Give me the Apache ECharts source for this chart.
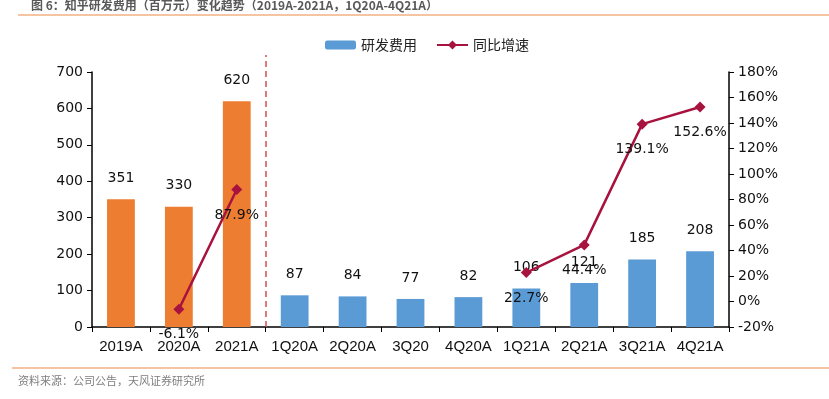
<!DOCTYPE html>
<html>
<head>
<meta charset="utf-8">
<script src="https://cdn.jsdelivr.net/npm/echarts@6/dist/echarts.min.js"></script>
<style>
  html, body { margin: 0; padding: 0; background: #fff; }
  #chart { width: 829px; height: 399px; }
</style>
</head>
<body>
<div id="chart"></div>
<script>
// 类目
var categories = ["2019A", "2020A", "2021A", "1Q20A", "2Q20A", "3Q20", "4Q20A", "1Q21A", "2Q21A", "3Q21A", "4Q21A"];
// 研发费用（百万元）
var rdCost = [351, 330, 620, 87, 84, 77, 82, 106, 121, 185, 208];
// 同比增速（%），年度与季度之间断开
var yoyGrowth = [null, -6.1, 87.9, null, null, null, null, 22.7, 44.4, 139.1, 152.6];
// 前三个为年度数据
var annualCount = 3;

var orange = "#ED7D31";
var blue = "#5B9BD5";
var lineColor = "#A8123E";
var axisFont = "DejaVu Sans, Verdana, sans-serif";
var catFont = "'Liberation Sans', Arial, sans-serif";

var myChart = echarts.init(document.getElementById("chart"));

var barData = rdCost.map(function (v, i) {
    return {
        value: v,
        itemStyle: { color: i < annualCount ? orange : blue }
    };
});

var option = {
    animation: false,
    backgroundColor: "#fff",
    title: {
        text: "图 6：知乎研发费用（百万元）变化趋势（2019A-2021A，1Q20A-4Q21A）",
        left: 26,
        top: -6,
        textStyle: { fontSize: 12, fontWeight: "bold", color: "#595959", fontFamily: "Noto Sans CJK SC" }
    },
    graphic: [
        { type: "line", shape: { x1: 18, y1: 15, x2: 829, y2: 15 }, style: { stroke: "#F4B183", lineWidth: 1.5 } },
        { type: "line", shape: { x1: 12, y1: 368, x2: 829, y2: 368 }, style: { stroke: "#F4B183", lineWidth: 1.5 } },
        { type: "text", left: 18, top: 375, style: { text: "资料来源：公司公告，天风证券研究所", fill: "#7F7F7F", font: "11px 'Noto Sans CJK SC'" } }
    ],
    legend: {
        top: 33,
        left: 320,
        itemGap: 20,
        itemWidth: 31,
        itemHeight: 9,
        textStyle: { fontSize: 14, color: "#222", fontFamily: "Noto Sans CJK SC" },
        data: [
            { name: "研发费用", itemStyle: { color: blue } },
            { name: "同比增速", icon: "path://M0,4 L31,4 L31,6 L0,6 Z M15.5,0.5 L20,5 L15.5,9.5 L11,5 Z" }
        ]
    },
    grid: [
        { left: 92, right: 100, top: 72, bottom: 72 },
        { left: 92, right: 100, top: 55, bottom: 72 }
    ],
    xAxis: [
        {
            type: "category",
            gridIndex: 0,
            data: categories,
            axisLine: { lineStyle: { color: "#000", width: 1.5 } },
            axisTick: { show: true, length: 5, lineStyle: { color: "#000" } },
            axisLabel: { interval: 0, fontSize: 15, color: "#111", margin: 12, fontFamily: catFont }
        },
        {
            type: "value",
            gridIndex: 1,
            min: 0,
            max: categories.length,
            show: false
        }
    ],
    yAxis: [
        {
            type: "value",
            gridIndex: 0,
            min: 0,
            max: 700,
            interval: 100,
            splitLine: { show: false },
            axisLine: { show: true, lineStyle: { color: "#000", width: 1.5 } },
            axisTick: { show: true, length: 5, lineStyle: { color: "#000" } },
            axisLabel: { fontSize: 14, color: "#111", margin: 9, fontFamily: axisFont }
        },
        {
            type: "value",
            gridIndex: 0,
            position: "right",
            min: -20,
            max: 180,
            interval: 20,
            splitLine: { show: false },
            axisLine: { show: true, lineStyle: { color: "#000", width: 1.5 } },
            axisTick: { show: true, length: 5, lineStyle: { color: "#000" } },
            axisLabel: { fontSize: 14, color: "#111", margin: 9, fontFamily: axisFont, formatter: "{value}%" }
        },
        {
            type: "value",
            gridIndex: 1,
            min: 0,
            max: 1,
            show: false
        }
    ],
    series: [
        {
            name: "研发费用",
            type: "bar",
            xAxisIndex: 0,
            yAxisIndex: 0,
            barWidth: "48%",
            itemStyle: { color: blue },
            label: {
                show: true,
                position: "top",
                distance: 14,
                fontSize: 14,
                color: "#111",
                fontFamily: axisFont
            },
            data: barData
        },
        {
            name: "同比增速",
            type: "line",
            xAxisIndex: 0,
            yAxisIndex: 1,
            symbol: "diamond",
            symbolSize: 11,
            connectNulls: false,
            lineStyle: { color: lineColor, width: 2.5 },
            itemStyle: { color: lineColor },
            label: {
                show: true,
                position: "bottom",
                distance: 13,
                fontSize: 14,
                color: "#111",
                fontFamily: axisFont,
                formatter: function (p) { return p.value.toFixed(1) + "%"; }
            },
            data: yoyGrowth,
            z: 5
        },
        {
            // 年度与季度分隔虚线
            type: "line",
            xAxisIndex: 1,
            yAxisIndex: 2,
            data: [],
            markLine: {
                symbol: ["none", "none"],
                silent: true,
                label: { show: false },
                lineStyle: { color: "#D05050", type: [6, 4], width: 1.5 },
                data: [{ xAxis: annualCount }]
            }
        }
    ]
};

myChart.setOption(option, true);
</script>
</body>
</html>
